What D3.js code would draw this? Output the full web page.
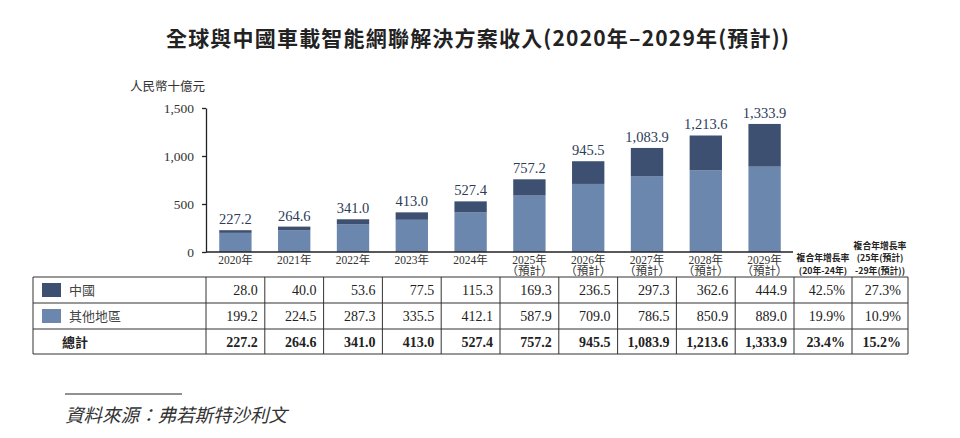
<!DOCTYPE html>
<html>
<head>
<meta charset="utf-8">
<script src="https://cdn.jsdelivr.net/npm/d3@7"></script>
<style>
  body { margin: 0; background: #fff; }
  svg { display: block; }
  .serif { font-family: "Liberation Serif", "Noto Serif CJK TC", "Noto Sans CJK TC", serif; }
  .cjk { font-family: "Liberation Serif", "Noto Sans CJK TC", sans-serif; }
</style>
</head>
<body>
<div id="svg-container"></div>
<script>
// data
const years = ["2020年", "2021年", "2022年", "2023年", "2024年", "2025年", "2026年", "2027年", "2028年", "2029年"];
const forecast = [false, false, false, false, false, true, true, true, true, true];
const china = [28.0, 40.0, 53.6, 77.5, 115.3, 169.3, 236.5, 297.3, 362.6, 444.9];
const others = [199.2, 224.5, 287.3, 335.5, 412.1, 587.9, 709.0, 786.5, 850.9, 889.0];
const totals = [227.2, 264.6, 341.0, 413.0, 527.4, 757.2, 945.5, 1083.9, 1213.6, 1333.9];
const cagrChina = ["42.5%", "27.3%"];
const cagrOthers = ["19.9%", "10.9%"];
const cagrTotal = ["23.4%", "15.2%"];
const yTicks = [0, 500, 1000, 1500];

const width = 960, height = 438;
const dark = "#3e5071", light = "#6b87ad";

const svg = d3.select("#svg-container").append("svg")
  .attr("width", width).attr("height", height);

// scales
const xScale = d3.scaleBand().domain(years).range([206, 794]);
const yScale = d3.scaleLinear().domain([0, 1500]).range([252, 108]);
const barW = xScale.bandwidth() * 0.55;
const fmt = d3.format(",.1f");

// title
svg.append("text")
  .attr("x", 478).attr("y", 46)
  .attr("text-anchor", "middle")
  .attr("font-family", "'Noto Sans CJK TC', sans-serif")
  .attr("font-weight", "bold")
  .attr("font-size", 21)
  .attr("letter-spacing", 1.2)
  .attr("fill", "#222")
  .text("全球與中國車載智能網聯解決方案收入(2020年–2029年(預計))");

// unit
svg.append("text")
  .attr("x", 130).attr("y", 91)
  .attr("font-family", "'Noto Sans CJK TC', sans-serif")
  .attr("font-size", 12.5)
  .attr("fill", "#333")
  .text("人民幣十億元");

// y axis
const yAxis = svg.append("g")
  .attr("transform", "translate(206,0)")
  .call(d3.axisLeft(yScale).tickValues(yTicks).tickSize(4).tickSizeOuter(0).tickFormat(d3.format(",")));
yAxis.select(".domain").attr("stroke", "#222").attr("stroke-width", 1.3);
yAxis.selectAll(".tick line").attr("stroke", "#222").attr("stroke-width", 1.3);
yAxis.selectAll(".tick text")
  .attr("class", "serif").attr("font-size", 13.5).attr("fill", "#333").attr("x", -12);

// bars
const bars = svg.append("g");
years.forEach((yr, i) => {
  const cx = xScale(yr) + xScale.bandwidth() / 2;
  bars.append("rect")
    .attr("x", cx - barW / 2).attr("width", barW)
    .attr("y", yScale(others[i])).attr("height", yScale(0) - yScale(others[i]))
    .attr("fill", light);
  bars.append("rect")
    .attr("x", cx - barW / 2).attr("width", barW)
    .attr("y", yScale(others[i] + china[i])).attr("height", yScale(others[i]) - yScale(others[i] + china[i]))
    .attr("fill", dark);
  bars.append("text")
    .attr("class", "serif")
    .attr("x", cx).attr("y", yScale(totals[i]) - 6)
    .attr("text-anchor", "middle")
    .attr("font-size", 14.5)
    .attr("fill", "#2c3c5a")
    .text(fmt(totals[i]));
  svg.append("text")
    .attr("class", "cjk")
    .attr("x", cx).attr("y", 264)
    .attr("text-anchor", "middle")
    .attr("font-size", 11.5)
    .attr("fill", "#333")
    .text(yr);
  if (forecast[i]) {
    svg.append("text")
      .attr("class", "cjk")
      .attr("x", cx).attr("y", 275)
      .attr("text-anchor", "middle")
      .attr("font-size", 11.5)
      .attr("fill", "#333")
      .text("（預計）");
  }
});

// x axis line
svg.append("line")
  .attr("x1", 206).attr("x2", 793)
  .attr("y1", yScale(0)).attr("y2", yScale(0))
  .attr("stroke", "#222").attr("stroke-width", 1.5);

// CAGR headers
const headFont = "'Noto Sans CJK TC', sans-serif";
[["複合年增長率", 261], ["(20年-24年)", 273.5]].forEach(([t, y]) => {
  svg.append("text").attr("x", 823).attr("y", y).attr("text-anchor", "middle")
    .attr("font-family", headFont).attr("font-weight", "bold").attr("font-size", 8.8).attr("fill", "#222").text(t);
});
[["複合年增長率", 248.5], ["(25年(預計)", 261], ["-29年(預計))", 273.5]].forEach(([t, y]) => {
  svg.append("text").attr("x", 880).attr("y", y).attr("text-anchor", "middle")
    .attr("font-family", headFont).attr("font-weight", "bold").attr("font-size", 8.8).attr("fill", "#222").text(t);
});

// table
const colX = [33, 206].concat(years.map(y => xScale(y) + xScale.bandwidth()), [852, 908]);
const rowY = [277, 303, 329, 354];
const tbl = svg.append("g");
colX.forEach(x => tbl.append("line").attr("x1", x).attr("x2", x).attr("y1", rowY[0]).attr("y2", rowY[3])
  .attr("stroke", "#333").attr("stroke-width", 1));
rowY.forEach(y => tbl.append("line").attr("x1", colX[0]).attr("x2", colX[colX.length - 1]).attr("y1", y).attr("y2", y)
  .attr("stroke", "#333").attr("stroke-width", 1));

const rows = [
  { label: "中國", color: dark, vals: china.map(fmt).concat(cagrChina), bold: false },
  { label: "其他地區", color: light, vals: others.map(fmt).concat(cagrOthers), bold: false },
  { label: "總計", color: null, vals: totals.map(fmt).concat(cagrTotal), bold: true }
];
rows.forEach((r, ri) => {
  const yMid = (rowY[ri] + rowY[ri + 1]) / 2;
  if (r.color) {
    tbl.append("rect").attr("x", 42).attr("y", yMid - 7).attr("width", 19).attr("height", 14).attr("fill", r.color);
    tbl.append("text").attr("x", 69).attr("y", yMid + 5)
      .attr("font-family", headFont).attr("font-size", 13).attr("fill", "#444").text(r.label);
  } else {
    tbl.append("text").attr("x", 62).attr("y", yMid + 5)
      .attr("font-family", headFont).attr("font-weight", "bold").attr("font-size", 13).attr("fill", "#222").text(r.label);
  }
  r.vals.forEach((v, ci) => {
    tbl.append("text")
      .attr("class", "serif")
      .attr("x", colX[ci + 2] - 7).attr("y", yMid + 5)
      .attr("text-anchor", "end")
      .attr("font-size", 14)
      .attr("font-weight", r.bold ? "bold" : "normal")
      .attr("fill", "#222")
      .text(v);
  });
});

// source
svg.append("line").attr("x1", 65).attr("x2", 182).attr("y1", 394).attr("y2", 394)
  .attr("stroke", "#222").attr("stroke-width", 1);
svg.append("text")
  .attr("x", 65).attr("y", 422)
  .attr("font-family", headFont)
  .attr("font-style", "italic")
  .attr("font-size", 18.5)
  .attr("fill", "#333")
  .text("資料來源：弗若斯特沙利文");
</script>
</body>
</html>
